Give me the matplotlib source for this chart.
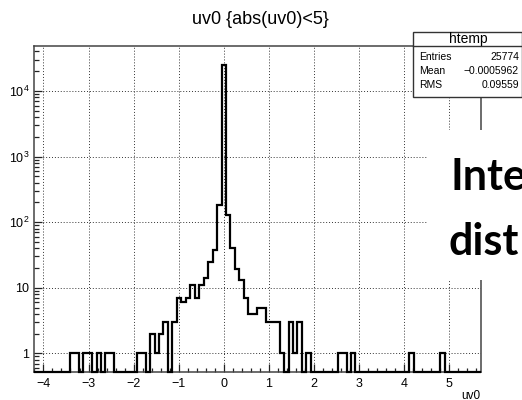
import matplotlib
matplotlib.use("Agg")
import matplotlib.pyplot as plt
import numpy as np
from matplotlib.patches import Rectangle
from matplotlib.lines import Line2D
from matplotlib.ticker import FixedLocator, FixedFormatter, LogLocator, NullFormatter

plt.rcParams["font.family"] = ["Liberation Sans", "DejaVu Sans"]
plt.rcParams["mathtext.fontset"] = "custom"
plt.rcParams["mathtext.rm"] = "Liberation Sans"
plt.rcParams["mathtext.it"] = "Liberation Sans:italic"
plt.rcParams["mathtext.bf"] = "Liberation Sans:bold"

# Histogram of uv0 (100 bins)
x_lo, x_hi, n_bins = -4.21, 5.70, 100
counts = [
    0, 0, 0, 0, 0, 0, 0, 0, 1, 1,
    0, 1, 1, 0, 1, 0, 1, 1, 0, 0,
    0, 0, 0, 1, 1, 0, 2, 1, 2, 3,
    0, 3, 7, 6, 7, 11, 7, 11, 14, 25,
    37, 181, 25200, 128, 40, 19, 13, 7, 4, 4,
    5, 5, 3, 3, 3, 1, 0, 3, 1, 3,
    0, 1, 0, 0, 0, 0, 0, 0, 1, 1,
    0, 1, 0, 0, 0, 0, 0, 0, 0, 0,
    0, 0, 0, 0, 1, 0, 0, 0, 0, 0,
    0, 1, 0, 0, 0, 0, 0, 0, 0, 0,
]

x_ticks = [-4, -3, -2, -1, 0, 1, 2, 3, 4, 5]
x_ticklabels = ["\u22124", "\u22123", "\u22122", "\u22121", "0", "1", "2", "3", "4", "5"]
y_ticks = [1, 10, 100, 1000, 10000]
y_ticklabels = ["1", "10", "$10^{2}$", "$10^{3}$", "$10^{4}$"]
y_lo, y_hi = 0.52, 4.9e4

stats_name = "htemp"
stats_rows = [("Entries", "25774"), ("Mean", "\u22120.0005962"), ("RMS", "0.09559")]
title = "uv0 {abs(uv0)<5}"
x_title = "uv0"
overlay_lines = ["Inte", "dist"]

W, H = 522, 400
fig = plt.figure(figsize=(W / 100, H / 100), dpi=100)
fx = lambda px: px / W
fy = lambda py: 1 - py / H

ax = fig.add_axes([fx(34), fy(372), (480.5 - 34) / W, (372 - 45.7) / H])

edges = np.linspace(x_lo, x_hi, n_bins + 1)
vals = np.maximum(np.asarray(counts, dtype=float), y_lo)
ax.stairs(vals, edges, baseline=None, color="black", lw=1.6, clip_on=False, zorder=3)

ax.set_yscale("log")
ax.set_xlim(x_lo, x_hi)
ax.set_ylim(y_lo, y_hi)

ax.xaxis.set_major_locator(FixedLocator(x_ticks))
ax.xaxis.set_major_formatter(FixedFormatter(x_ticklabels))
ax.xaxis.set_minor_locator(FixedLocator(np.round(np.arange(-4.2, 5.71, 0.2), 2)))
ax.yaxis.set_major_locator(FixedLocator(y_ticks))
ax.yaxis.set_major_formatter(FixedFormatter(y_ticklabels))
ax.yaxis.set_minor_locator(LogLocator(base=10, subs=np.arange(2, 10), numticks=20))
ax.yaxis.set_minor_formatter(NullFormatter())

ax.tick_params(which="both", direction="in", top=False, right=False,
               color="#222222", width=0.9)
ax.tick_params(axis="x", which="major", length=6, pad=4, labelsize=9)
ax.tick_params(axis="x", which="minor", length=3)
ax.tick_params(axis="y", which="major", length=6, pad=3.5, labelsize=9)
ax.tick_params(axis="y", which="minor", length=3.5)

ax.grid(True, which="major", linestyle=(0, (1, 2)), color="#333333", lw=0.7)
ax.set_axisbelow(True)
for s in ax.spines.values():
    s.set_color("#444444")
    s.set_linewidth(1.1)

# Title and axis title
fig.text(fx(260), fy(20), title, ha="center", va="center", fontsize=13)
fig.text(fx(480), fy(390), x_title, ha="right", va="top", fontsize=8.5)

# Statistics box
box_l, box_r, box_t, box_b, head_b = 413, 521.5, 31.7, 96.7, 45.7
fig.add_artist(Rectangle((fx(box_l), fy(box_b)), (box_r - box_l) / W, (box_b - box_t) / H,
                         transform=fig.transFigure, fc="white", ec="#333333", lw=1.0, zorder=6))
fig.add_artist(Line2D([fx(box_l), fx(box_r)], [fy(head_b), fy(head_b)],
                      transform=fig.transFigure, color="#333333", lw=1.0, zorder=7))
fig.text(fx((box_l + box_r) / 2 + 1), fy((box_t + head_b) / 2 + 0.5), stats_name,
         ha="center", va="center", fontsize=10, zorder=8)
for i, (k, v) in enumerate(stats_rows):
    yy = fy(57.5 + i * 14)
    fig.text(fx(419), yy, k, ha="left", va="center", fontsize=7.5, zorder=8)
    fig.text(fx(519), yy, v, ha="right", va="center", fontsize=7.5, zorder=8)

# Overlaid slide text on a white patch
fig.add_artist(Rectangle((fx(428), fy(280)), (W - 428) / W, (280 - 130) / H,
                         transform=fig.transFigure, fc="white", ec="none", zorder=5))
fig.text(fx(450), fy(190), overlay_lines[0], ha="left", va="baseline",
         fontsize=31, fontweight="bold", family=["Lato", "DejaVu Sans"], zorder=8)
fig.text(fx(449), fy(255), overlay_lines[1], ha="left", va="baseline",
         fontsize=31, fontweight="bold", family=["Lato", "DejaVu Sans"], zorder=8)

fig.savefig("out.png", dpi=100)
